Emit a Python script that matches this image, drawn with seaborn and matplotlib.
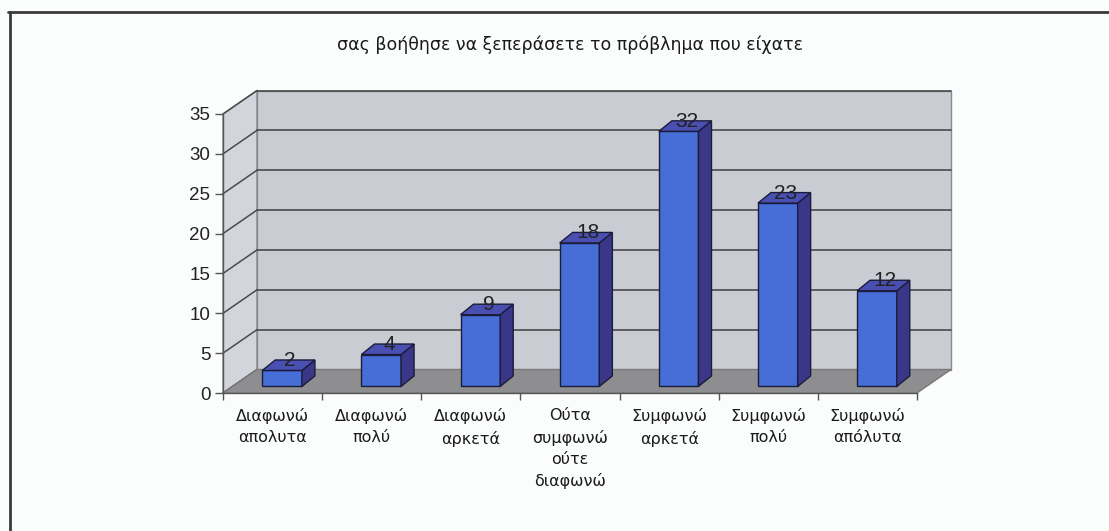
import matplotlib
matplotlib.use("Agg")
import matplotlib.pyplot as plt
from matplotlib.patches import Polygon
from matplotlib.lines import Line2D
import seaborn as sns

# Survey answers and response counts
categories = [
    "Διαφωνώ\nαπολυτα",
    "Διαφωνώ\nπολύ",
    "Διαφωνώ\nαρκετά",
    "Ούτα\nσυμφωνώ\nούτε\nδιαφωνώ",
    "Συμφωνώ\nαρκετά",
    "Συμφωνώ\nπολύ",
    "Συμφωνώ\nαπόλυτα",
]
counts = [2, 4, 9, 18, 32, 23, 12]
y_ticks = [0, 5, 10, 15, 20, 25, 30, 35]
title = "σας βοήθησε να ξεπεράσετε το πρόβλημα που είχατε"

sns.set_style("white")
plt.rcParams["font.family"] = ["Liberation Sans", "DejaVu Sans"]

W, H = 1109, 531
fig = plt.figure(figsize=(W / 100, H / 100), dpi=100)
fig.patch.set_facecolor("#fbfdfd")

# front plane of the 3-D box, in pixel units of the figure
left_px, right_px, top_px, bot_px = 223, 917, 114, 393
ax = fig.add_axes([left_px / W, (H - bot_px) / H,
                   (right_px - left_px) / W, (bot_px - top_px) / H])
ax.set_facecolor("none")

n = len(categories)
xmin, xmax = -0.5, n - 0.5
ymax = y_ticks[-1]
px_x = (right_px - left_px) / (xmax - xmin)
px_y = (bot_px - top_px) / ymax

# depth of the walls and of the bars (pixels -> data units)
WDX, WDY = 34 / px_x, 23.5 / px_y
BDX, BDY = 13 / px_x, 10.5 / px_y
DEPTH = 0.28  # bars sit part-way back on the floor

WALL = "#caccd4"
SIDE_WALL = "#d3d5dc"
FLOOR = "#8e8e90"
GRID = "#4a4a4a"
FRONT = "#466ed6"
SIDE = "#3b3788"
TOP = "#4a4fb2"
EDGE = "#1b1b3a"

# side wall, back wall and floor
side = [(xmin, 0), (xmin + WDX, WDY), (xmin + WDX, ymax + WDY), (xmin, ymax)]
back = [(xmin + WDX, WDY), (xmax + WDX, WDY), (xmax + WDX, ymax + WDY), (xmin + WDX, ymax + WDY)]
floor = [(xmin, 0), (xmax, 0), (xmax + WDX, WDY), (xmin + WDX, WDY)]
ax.add_patch(Polygon(side, closed=True, facecolor=SIDE_WALL, edgecolor="#8a8a8a",
                     lw=1.0, clip_on=False, zorder=0))
ax.add_patch(Polygon(back, closed=True, facecolor=WALL, edgecolor="#8a8a8a",
                     lw=1.0, clip_on=False, zorder=0))
ax.add_patch(Polygon(floor, closed=True, facecolor=FLOOR, edgecolor="#7a7a7a",
                     lw=1.0, clip_on=False, zorder=1))

# gridlines on the back wall and on the side wall
for v in y_ticks[1:]:
    ax.add_line(Line2D([xmin + WDX, xmax + WDX], [v + WDY, v + WDY], color=GRID,
                       lw=1.2, clip_on=False, zorder=0.5))
for v in y_ticks:
    ax.add_line(Line2D([xmin, xmin + WDX], [v, v + WDY], color=GRID,
                       lw=1.1, clip_on=False, zorder=0.5))

# front faces of the bars
sns.barplot(x=categories, y=counts, color=FRONT, saturation=1, width=0.4,
            edgecolor=EDGE, linewidth=1.0, ax=ax, zorder=3)
bars = list(ax.containers[0])

for p, v in zip(bars, counts):
    p.set_x(p.get_x() + DEPTH * WDX)
    p.set_y(p.get_y() + DEPTH * WDY)
    p.set_clip_on(False)
    x0, y0, w, h = p.get_x(), p.get_y(), p.get_width(), p.get_height()
    side_face = [(x0 + w, y0), (x0 + w + BDX, y0 + BDY),
                 (x0 + w + BDX, y0 + h + BDY), (x0 + w, y0 + h)]
    top_face = [(x0, y0 + h), (x0 + BDX, y0 + h + BDY),
                (x0 + w + BDX, y0 + h + BDY), (x0 + w, y0 + h)]
    ax.add_patch(Polygon(side_face, closed=True, facecolor=SIDE, edgecolor=EDGE,
                         lw=1.0, clip_on=False, zorder=3))
    ax.add_patch(Polygon(top_face, closed=True, facecolor=TOP, edgecolor=EDGE,
                         lw=1.0, clip_on=False, zorder=3))
    ax.text(x0 + w / 2 + 8 / px_x, y0 + h + 10 / px_y, str(v), ha="center",
            va="center", fontsize=15, color="#222222", zorder=4)

# axes, ticks and labels
ax.set_xlim(xmin, xmax)
ax.set_ylim(0, ymax)
ax.set_yticks(y_ticks)
ax.set_xticks(range(n))
ax.set_xticklabels(categories, fontsize=11.5, color="#1a1a1a", linespacing=1.5,
                   family=["DejaVu Sans"])
ax.set_xticks([i - 0.5 for i in range(n + 1)], minor=True)
ax.tick_params(axis="x", which="major", length=0, pad=11)
ax.tick_params(axis="x", which="minor", length=5, width=1, color="#555555",
               direction="out", bottom=True)
ax.tick_params(axis="y", length=6, width=1, color="#555555", direction="out",
               left=True, pad=3, labelsize=13.5, labelcolor="#222222")
ax.set_xlabel("")
ax.set_ylabel("")
for s in ["top", "right"]:
    ax.spines[s].set_visible(False)
for s in ["left", "bottom"]:
    ax.spines[s].set_color("#555555")
    ax.spines[s].set_linewidth(1.0)
    ax.spines[s].set_zorder(2)

fig.text(570 / W, 1 - 45 / H, title, ha="center", va="center", fontsize=12.5,
         color="#1a1a1a", family=["DejaVu Sans"])

# outer chart frame
fig.add_artist(Line2D([8 / W, 1.0], [1 - 12 / H, 1 - 12 / H],
                      transform=fig.transFigure, color="#3a3a3a", lw=2.0))
fig.add_artist(Line2D([10 / W, 10 / W], [1 - 12 / H, 0.0],
                      transform=fig.transFigure, color="#3a3a3a", lw=2.0))

fig.savefig("out.png", dpi=100, facecolor=fig.get_facecolor())
